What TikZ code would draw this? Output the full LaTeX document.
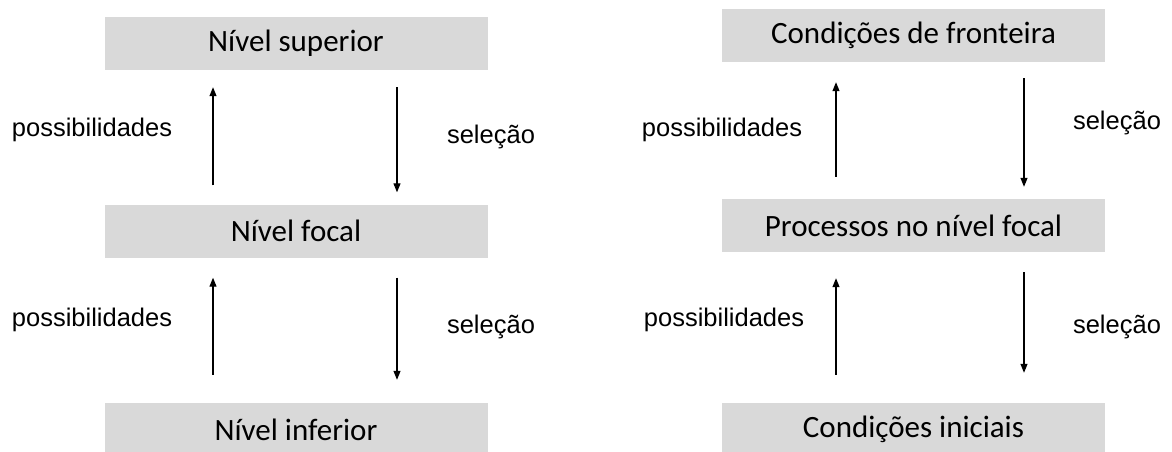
\documentclass[tikz,border=0pt]{standalone}
\usepackage{fontspec}
\setmainfont{Carlito}
\newfontfamily\labelfont{Liberation Sans}
\usetikzlibrary{arrows.meta}
\definecolor{boxgray}{RGB}{217,217,217}

\begin{document}
\begin{tikzpicture}[x=1pt, y=-1pt,
	level/.style={fill=boxgray, minimum width=383pt, minimum height=53pt, inner sep=0pt,
		font=\fontsize{31}{36}\selectfont},
	lbl/.style={font=\labelfont\fontsize{25.5}{30}\selectfont, inner sep=0pt},
	flow/.style={line width=1.1pt, -{Triangle[length=9pt,width=7pt]}}]
	\clip (0,0) rectangle (1172,451);
	% left column
	\node[level] (sup) at (296,43.5) {Nível superior};
	\node[level] (foc) at (296,231) {Nível focal};
	\node[level] (inf) at (296,429.5) {Nível inferior};
	\node[lbl] (p1) at (92,130) {possibilidades};
	\node[lbl] (s1) at (491,137) {seleção};
	\node[lbl] (p2) at (92,320) {possibilidades};
	\node[lbl] (s2) at (491,327) {seleção};
	\draw[flow, shorten <=19pt, shorten >=17pt] ([xshift=-83pt]foc.north) -- ([xshift=-83pt]sup.south);
	\draw[flow, shorten <=17pt, shorten >=12pt] ([xshift=101pt]sup.south) -- ([xshift=101pt]foc.north);
	\draw[flow, shorten <=28pt, shorten >=20pt] ([xshift=-83pt]inf.north) -- ([xshift=-83pt]foc.south);
	\draw[flow, shorten <=20pt, shorten >=23pt] ([xshift=101pt]foc.south) -- ([xshift=101pt]inf.north);
	% right column
	\node[level] (fro) at (913.5,35.5) {Condições de fronteira};
	\node[level] (pro) at (913.5,225.5) {Processos no nível focal};
	\node[level] (ini) at (913.5,429.5) {Condições iniciais};
	\node[lbl] (p3) at (722,130) {possibilidades};
	\node[lbl] (s3) at (1117,123) {seleção};
	\node[lbl] (p4) at (724,320) {possibilidades};
	\node[lbl] (s4) at (1117,327) {seleção};
	\draw[flow, shorten <=22pt, shorten >=20pt] ([xshift=-77.5pt]pro.north) -- ([xshift=-77.5pt]fro.south);
	\draw[flow, shorten <=16pt, shorten >=12pt] ([xshift=110.5pt]fro.south) -- ([xshift=110.5pt]pro.north);
	\draw[flow, shorten <=28pt, shorten >=26pt] ([xshift=-77.5pt]ini.north) -- ([xshift=-77.5pt]pro.south);
	\draw[flow, shorten <=20pt, shorten >=30pt] ([xshift=110.5pt]pro.south) -- ([xshift=110.5pt]ini.north);
\end{tikzpicture}
\end{document}
